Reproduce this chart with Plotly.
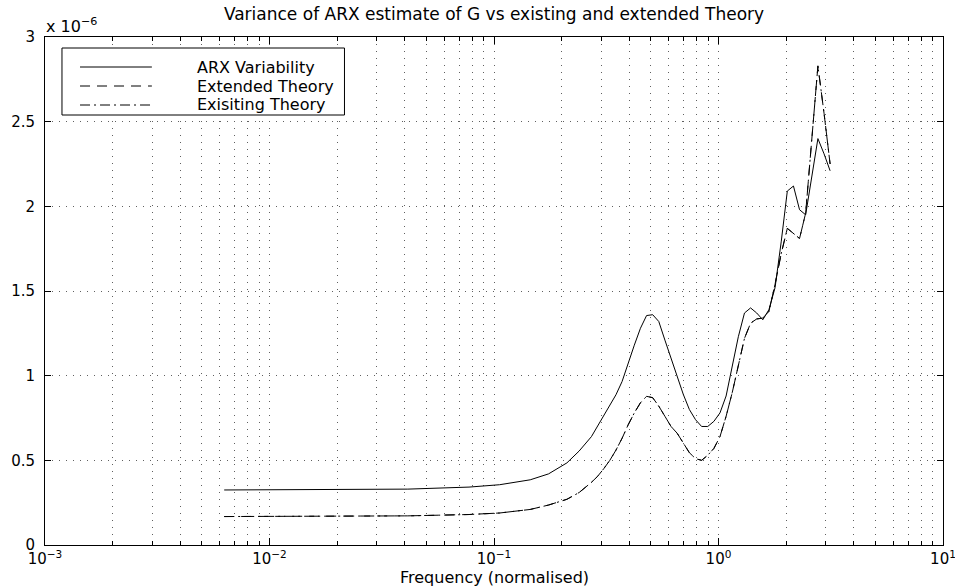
import plotly.graph_objects as go

# ---- data (variance values in units of 1e-6) ----
freq = [0.006283, 0.01177, 0.02206, 0.04131, 0.07739, 0.1059, 0.1450, 0.1750, 0.2113, 0.2395,
        0.2716, 0.2892, 0.3080, 0.3280, 0.3493, 0.3719, 0.3960, 0.4217, 0.4491, 0.4782,
        0.5092, 0.5420, 0.5772, 0.6146, 0.6544, 0.6967, 0.7418, 0.7902, 0.8410, 0.8956,
        0.9535, 1.0153, 1.0811, 1.1512, 1.2257, 1.3052, 1.3897, 1.4797, 1.5752, 1.6776,
        1.7865, 1.9022, 2.0255, 2.1572, 2.2961, 2.4449, 2.6034, 2.7722, 2.9519, 3.1416]

arx_var = [0.325, 0.326, 0.327, 0.330, 0.342, 0.356, 0.385, 0.420, 0.485, 0.555,
           0.640, 0.700, 0.760, 0.823, 0.887, 0.965, 1.075, 1.180, 1.280, 1.355,
           1.360, 1.320, 1.210, 1.100, 0.990, 0.890, 0.800, 0.740, 0.700, 0.700,
           0.730, 0.780, 0.880, 1.050, 1.230, 1.370, 1.400, 1.370, 1.330, 1.390,
           1.520, 1.790, 2.090, 2.120, 1.980, 1.950, 2.190, 2.400, 2.310, 2.210]

ext_theory = [0.168, 0.168, 0.169, 0.172, 0.180, 0.189, 0.210, 0.236, 0.270, 0.310,
              0.370, 0.405, 0.450, 0.500, 0.560, 0.630, 0.710, 0.780, 0.840, 0.878,
              0.870, 0.820, 0.760, 0.700, 0.660, 0.600, 0.545, 0.510, 0.500, 0.530,
              0.570, 0.640, 0.760, 0.900, 1.070, 1.220, 1.310, 1.335, 1.340, 1.380,
              1.540, 1.720, 1.870, 1.840, 1.810, 1.960, 2.400, 2.830, 2.550, 2.250]

exi_theory = [0.168, 0.168, 0.169, 0.172, 0.180, 0.189, 0.210, 0.236, 0.270, 0.310,
              0.370, 0.405, 0.450, 0.500, 0.560, 0.630, 0.710, 0.780, 0.840, 0.878,
              0.870, 0.820, 0.760, 0.700, 0.660, 0.600, 0.545, 0.510, 0.500, 0.530,
              0.570, 0.640, 0.760, 0.900, 1.070, 1.220, 1.310, 1.335, 1.340, 1.380,
              1.540, 1.720, 1.870, 1.840, 1.810, 1.960, 2.400, 2.830, 2.550, 2.250]

series_names = ["ARX Variability", "Extended Theory", "Exisiting Theory"]
series_dash = ["solid", "10px,7px", "10px,4px,2px,4px"]

x_major = [0.001, 0.01, 0.1, 1, 10]
x_major_text = ["10<sup>\u22123</sup>", "10<sup>\u22122</sup>", "10<sup>\u22121</sup>",
                "10<sup>0</sup>", "10<sup>1</sup>"]
x_minor = [m * d for d in [0.001, 0.01, 0.1, 1] for m in range(2, 10)]
y_ticks = [0, 0.5, 1, 1.5, 2, 2.5, 3]
y_tick_text = ["0", "0.5", "1", "1.5", "2", "2.5", "3"]

FONT = "DejaVu Sans, Liberation Sans, Arial, sans-serif"
FS_TICK = 15
FS_TEXT = 17
FS_LEG = 16
GRID = "#606060"
GDASH = "1px,6px"

fig = go.Figure()
for ys, name, dash in zip([arx_var, ext_theory, exi_theory], series_names, series_dash):
    fig.add_trace(go.Scatter(x=freq, y=ys, mode="lines", name=name,
                             line=dict(color="black", width=1, dash=dash),
                             showlegend=False))

# manual legend (MATLAB style); plot area spans 508 px vertically
shapes = [dict(type="rect", xref="paper", yref="paper", x0=0.0189, x1=0.3335,
               y0=(545 - 115) / 508, y1=(545 - 48) / 508, line=dict(color="black", width=1),
               fillcolor="white", layer="above")]
annotations = []
rows = [(545 - 67) / 508, (545 - 86) / 508, (545 - 105) / 508]
for r, name, dash in zip(rows, series_names, series_dash):
    shapes.append(dict(type="line", xref="paper", yref="paper", x0=0.039, x1=0.119,
                       y0=r, y1=r, line=dict(color="black", width=1, dash=dash),
                       layer="above"))
    annotations.append(dict(text=name, xref="paper", yref="paper", x=0.168, y=r,
                            xanchor="left", yanchor="middle", showarrow=False,
                            borderpad=0,
                            font=dict(family=FONT, size=FS_LEG, color="black")))

annotations.append(dict(text="x 10<sup>\u22126</sup>", xref="paper", yref="paper",
                        x=0.0, y=1.022, xanchor="left", yanchor="middle",
                        showarrow=False, borderpad=0,
                        font=dict(family=FONT, size=16, color="black")))
annotations.append(dict(text="Frequency (normalised)", xref="paper", yref="paper",
                        x=0.5, y=(545 - 578) / 508, xanchor="center", yanchor="middle",
                        showarrow=False, borderpad=0,
                        font=dict(family=FONT, size=16, color="black")))

fig.update_layout(
    width=955, height=587,
    margin=dict(l=45, r=12, t=37, b=42, autoexpand=False),
    paper_bgcolor="white", plot_bgcolor="white",
    font=dict(family=FONT, size=FS_TICK, color="black"),
    title=dict(text="Variance of ARX estimate of G vs existing and extended Theory",
               x=0.5, xref="paper", y=1 - 14 / 587, yref="container",
               xanchor="center", yanchor="middle",
               font=dict(family=FONT, size=FS_TEXT, color="black")),
    shapes=shapes, annotations=annotations,
)

fig.update_xaxes(type="log", range=[-3, 1], tickmode="array", tickvals=x_major,
                 ticktext=x_major_text, ticks="inside", ticklen=7, tickcolor="black",
                 showline=True, linecolor="black", linewidth=1, mirror="ticks",
                 showgrid=True, gridcolor=GRID, griddash=GDASH, gridwidth=1,
                 zeroline=False, ticklabelstandoff=0, automargin=False,
                 ticklabeloverflow="allow",
                 tickfont=dict(family=FONT, size=FS_TICK, color="black"),
                 minor=dict(tickmode="array", tickvals=x_minor, ticks="inside",
                            ticklen=4, tickcolor="black", showgrid=True,
                            gridcolor=GRID, griddash=GDASH, gridwidth=1))
fig.update_yaxes(range=[0, 3], tickmode="array", tickvals=y_ticks, ticktext=y_tick_text,
                 ticks="inside", ticklen=6, tickcolor="black",
                 showline=True, linecolor="black", linewidth=1, mirror="ticks",
                 showgrid=True, gridcolor=GRID, griddash=GDASH, gridwidth=1,
                 zeroline=False, ticklabelstandoff=6, automargin=False,
                 tickfont=dict(family=FONT, size=FS_TICK, color="black"))

fig.write_html("out.html")
